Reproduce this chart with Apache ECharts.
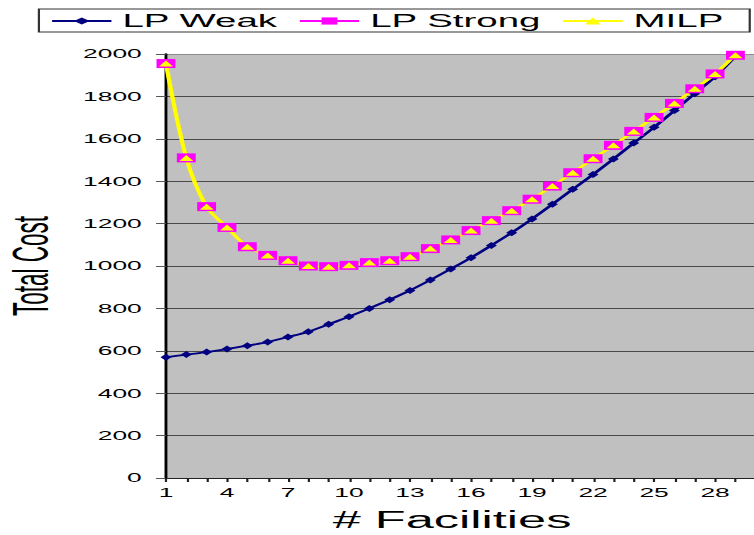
<!DOCTYPE html>
<html>
<head>
<meta charset="utf-8">
<script src="https://cdn.jsdelivr.net/npm/echarts@6/dist/echarts.min.js"></script>
<style>
  html, body { margin: 0; padding: 0; background: #ffffff; overflow: hidden; }
  /* the chart is laid out narrow and stretched sideways to the full page width */
  #chart { width: 343px; height: 535px; transform: scaleX(2.19825); transform-origin: 0 0; }
</style>
</head>
<body>
<div id="chart"></div>
<script>
// Number of facilities opened (category axis)
const facilities = ['1','2','3','4','5','6','7','8','9','10',
                    '11','12','13','14','15','16','17','18','19','20',
                    '21','22','23','24','25','26','27','28','29','30'];

// Total cost by formulation
const lpWeak = [569, 582, 594, 608, 624, 641, 665, 690, 725, 761,
                800, 841, 885, 934, 986, 1039, 1097, 1157, 1222, 1291,
                1362, 1432, 1505, 1580, 1654, 1733, 1813, 1893, 1990];

const lpStrong = [1955, 1510, 1280, 1182, 1091, 1050, 1025, 1000, 997, 1003,
                  1016, 1025, 1044, 1082, 1123, 1167, 1214, 1261, 1315, 1377,
                  1440, 1506, 1569, 1635, 1701, 1767, 1836, 1906, 1994, 2065];

const milp = [1955, 1510, 1280, 1182, 1091, 1050, 1025, 1000, 997, 1003,
              1016, 1025, 1044, 1082, 1123, 1167, 1214, 1261, 1315, 1377,
              1440, 1506, 1569, 1635, 1701, 1767, 1836, 1906, 1994, 2065];

// Value axis ticks
const yMin = 0, yMax = 2000, yStep = 200;

const FONT = '"Liberation Sans", Arial, Helvetica, sans-serif';

const chart = echarts.init(document.getElementById('chart'), null, { renderer: 'svg' });

// split lines: the top one (at the maximum) is lighter, like the plot frame
const splitColors = [];
for (let v = yMin; v <= yMax; v += yStep) splitColors.push(v === yMax ? '#8c8c8c' : '#4a4a4a');

chart.setOption({
  animation: false,
  backgroundColor: '#ffffff',
  legend: {
    left: 17.7,
    top: 9,
    width: 312,
    padding: [3, 12, 2, 5],
    itemGap: 9,
    itemWidth: 27,
    itemHeight: 9,
    borderColor: '#333333',
    borderWidth: 1,
    textStyle: { fontFamily: FONT, fontSize: 17.5, color: '#000000' },
    data: ['LP Weak', 'LP Strong', 'MILP']
  },
  grid: {
    left: 75.5,
    right: -0.8,
    top: 54,
    bottom: 57,
    outerBoundsMode: 'none',
    containLabel: false,
    show: true,
    backgroundColor: '#c0c0c0',
    borderWidth: 0
  },
  xAxis: {
    type: 'category',
    data: facilities,
    boundaryGap: false,
    name: '# Facilities',
    nameLocation: 'middle',
    nameGap: 30,
    nameTextStyle: { fontFamily: FONT, fontSize: 23, color: '#000000', padding: [0, 8, 0, 0] },
    axisLine: { show: true, lineStyle: { color: '#222222', width: 1 } },
    axisTick: { show: true, interval: 0, length: 4, lineStyle: { color: '#222222', width: 1 } },
    axisLabel: { interval: 2, margin: 9, fontFamily: FONT, fontSize: 12, color: '#000000' },
    splitLine: { show: false }
  },
  yAxis: {
    type: 'value',
    min: yMin,
    max: yMax,
    interval: yStep,
    name: 'Total Cost',
    nameLocation: 'middle',
    nameRotate: 90,
    nameGap: 50,
    nameTextStyle: { fontFamily: FONT, fontSize: 22.5, color: '#000000' },
    axisLine: { show: true, lineStyle: { color: '#000000', width: 1.3 } },
    axisTick: { show: true, length: 4.5, lineStyle: { color: '#555555', width: 1 } },
    axisLabel: {
      margin: 11, fontFamily: FONT, fontSize: 12, color: '#000000',
      formatter: (v) => String(v)
    },
    splitLine: { show: true, lineStyle: { color: splitColors, width: 1 } }
  },
  series: [
    {
      name: 'LP Weak',
      type: 'line',
      data: lpWeak,
      smooth: 0.3,
      showAllSymbol: true,
      symbol: 'diamond',
      symbolSize: [5, 7],
      lineStyle: { color: '#000080', width: 1.8 },
      itemStyle: { color: '#000080' },
      emphasis: { disabled: true }
    },
    {
      name: 'LP Strong',
      type: 'line',
      data: lpStrong,
      smooth: 0.3,
      showAllSymbol: true,
      symbol: 'rect',
      symbolSize: [8.6, 9],
      lineStyle: { color: '#ff00ff', width: 1.6 },
      itemStyle: { color: '#ff00ff' },
      emphasis: { disabled: true }
    },
    {
      name: 'MILP',
      type: 'line',
      data: milp,
      smooth: 0.3,
      showAllSymbol: true,
      symbol: 'triangle',
      symbolSize: [6.4, 6],
      lineStyle: { color: '#ffff00', width: 2 },
      itemStyle: { color: '#ffff00' },
      emphasis: { disabled: true }
    }
  ]
});
</script>
</body>
</html>
